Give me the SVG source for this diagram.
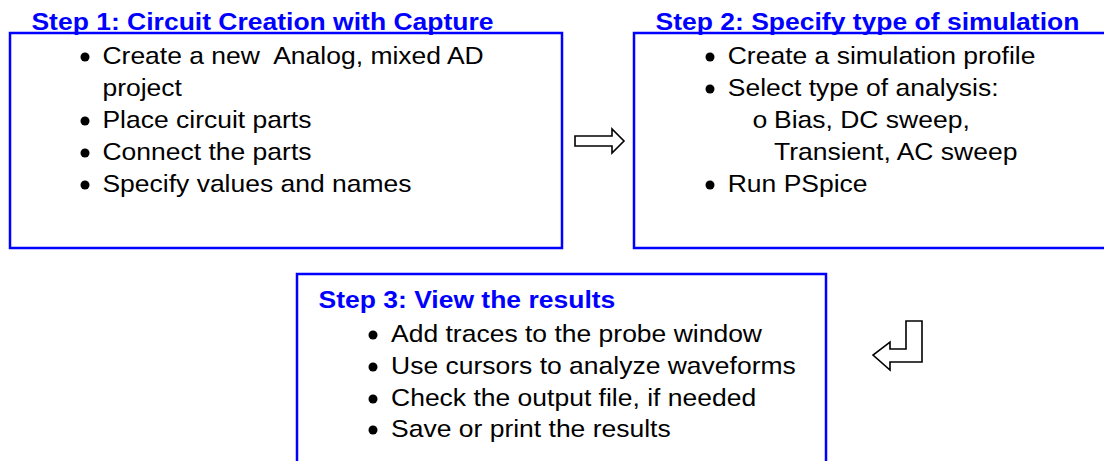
<svg xmlns="http://www.w3.org/2000/svg" width="1104" height="461" viewBox="0 0 1104 461">
<style>
.box{fill:none;stroke:#0000FF;stroke-width:2.5}
.title{font-family:"Liberation Sans",Arial,sans-serif;font-weight:bold;font-size:24px;fill:#0000FF}
.body{font-family:"Liberation Sans",Arial,sans-serif;font-size:24px;fill:#000}
.sub{font-family:"Liberation Mono","Courier New",monospace;font-size:24px;fill:#000}
.dot{fill:#000}
.arrow{fill:#fff;stroke:#000;stroke-width:1.6;stroke-linejoin:miter}
</style>
<rect width="1104" height="461" fill="#fff"/>
<g id="step1">
<rect class="box" x="10" y="33" width="552" height="215"/>
<circle class="dot" cx="85" cy="57" r="4.5"/>
<circle class="dot" cx="85" cy="121" r="4.5"/>
<circle class="dot" cx="85" cy="153" r="4.5"/>
<circle class="dot" cx="85" cy="185" r="4.5"/>
<g transform="scale(1.104 1)">
<text class="title" x="28.5" y="30">Step 1: Circuit Creation with Capture</text>
<text class="body" x="92.8" y="64" xml:space="preserve">Create a new  Analog, mixed AD</text>
<text class="body" x="92.8" y="96">project</text>
<text class="body" x="92.8" y="128">Place circuit parts</text>
<text class="body" x="92.8" y="160">Connect the parts</text>
<text class="body" x="92.8" y="192">Specify values and names</text>
</g>
</g>
<g id="step2">
<rect class="box" x="634" y="33" width="480" height="215"/>
<circle class="dot" cx="710" cy="57" r="4.5"/>
<circle class="dot" cx="710" cy="89" r="4.5"/>
<circle class="dot" cx="710" cy="185" r="4.5"/>
<g transform="scale(1.104 1)">
<text class="title" x="593.8" y="30">Step 2: Specify type of simulation</text>
<text class="body" x="659.2" y="64">Create a simulation profile</text>
<text class="body" x="659.2" y="96">Select type of analysis:</text>
<text class="sub" x="681.2" y="128">o</text>
<text class="body" x="701.1" y="128">Bias, DC sweep,</text>
<text class="body" x="701.1" y="160">Transient, AC sweep</text>
<text class="body" x="659.2" y="192">Run PSpice</text>
</g>
</g>
<g id="step3">
<rect class="box" x="297" y="274" width="529" height="200"/>
<circle class="dot" cx="373" cy="335" r="4.5"/>
<circle class="dot" cx="373" cy="367" r="4.5"/>
<circle class="dot" cx="373" cy="399" r="4.5"/>
<circle class="dot" cx="373" cy="430" r="4.5"/>
<g transform="scale(1.104 1)">
<text class="title" x="288.5" y="308">Step 3: View the results</text>
<text class="body" x="354.2" y="342">Add traces to the probe window</text>
<text class="body" x="354.2" y="374">Use cursors to analyze waveforms</text>
<text class="body" x="354.2" y="406">Check the output file, if needed</text>
<text class="body" x="354.2" y="437">Save or print the results</text>
</g>
</g>
<g id="connectors">
<polygon class="arrow" points="575,136 612,136 612,129 624,141 612,153 612,146 575,146"/>
<polygon class="arrow" points="906,321 922,321 922,362 890,362 890,370 873,355 890,342 890,349 906,349"/>
</g>
</svg>
